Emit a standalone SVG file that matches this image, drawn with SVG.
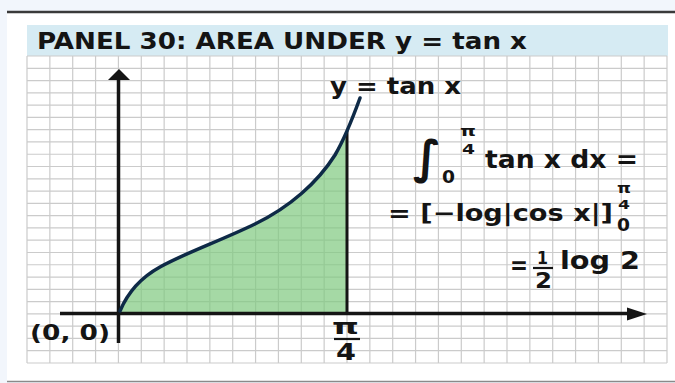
<svg xmlns="http://www.w3.org/2000/svg" width="675" height="383" viewBox="0 0 675 383">
<style>
.t{font-family:"DejaVu Sans","Liberation Sans",sans-serif;font-weight:bold;fill:#141414}
.grid{stroke:#cbcbcb;stroke-width:1.2;fill:none}
.ax{stroke:#151515;stroke-width:3.5;fill:none}
.bar{stroke:#141414;stroke-width:2.2}
</style>
<defs>
<clipPath id="clipArea"><rect x="0" y="0" width="347" height="383"/></clipPath>
</defs>
<rect width="675" height="383" fill="#f2f6fc"/>
<rect x="7" y="13" width="668" height="368" fill="#ffffff"/>
<line x1="7" y1="12" x2="675" y2="12" stroke="#3a3a3a" stroke-width="2.5"/>
<line x1="7" y1="381.5" x2="675" y2="381.5" stroke="#8a8a8a" stroke-width="1.5"/>
<g id="header">
<rect x="27" y="25" width="641" height="31" fill="#d6ebf3"/>
<text class="t" x="37" y="49" font-size="23.5" textLength="490" lengthAdjust="spacingAndGlyphs">PANEL 30: AREA UNDER y = tan x</text>
</g>
<g id="grid">
<path class="grid" d="M27,56V363M49.86,56V363M72.71,56V363M95.57,56V363M118.43,56V363M141.29,56V363M164.14,56V363M187,56V363M209.86,56V363M232.71,56V363M255.57,56V363M278.43,56V363M301.29,56V363M324.14,56V363M347,56V363M369.86,56V363M392.71,56V363M415.57,56V363M438.43,56V363M461.29,56V363M484.14,56V363M507,56V363M529.86,56V363M552.71,56V363M575.57,56V363M598.43,56V363M621.29,56V363M644.14,56V363M667,56V363
M27,56H667M27,68.28H667M27,80.56H667M27,92.84H667M27,105.12H667M27,117.4H667M27,129.68H667M27,141.96H667M27,154.24H667M27,166.52H667M27,178.8H667M27,191.08H667M27,203.36H667M27,215.64H667M27,227.92H667M27,240.2H667M27,252.48H667M27,264.76H667M27,277.04H667M27,289.32H667M27,301.6H667M27,313.88H667M27,326.16H667M27,338.44H667M27,350.72H667M27,363H667"/>
</g>
<g id="area">
<path clip-path="url(#clipArea)" fill="#7fc97f" fill-opacity="0.7" d="M120,313 L120,311 C128,292 140,278 160,267 C185,253 220,241 255,224 C290,207 318,182 335,155 C345,138 352,120 360,98 L360,313 Z"/>
<line x1="347" y1="313" x2="347" y2="131" stroke="#151515" stroke-width="3"/>
</g>
<g id="axes">
<line class="ax" x1="118.5" y1="343" x2="118.5" y2="78"/>
<polygon points="119,69 108,80 130,80" fill="#151515"/>
<line class="ax" x1="60" y1="313.5" x2="630" y2="313.5"/>
<polygon points="647,314 627,307.5 627,320.5" fill="#151515"/>
</g>
<g id="curve">
<path d="M120,311 C128,292 140,278 160,267 C185,253 220,241 255,224 C290,207 318,182 335,155 C345,138 352,120 360,98" fill="none" stroke="#0e2a47" stroke-width="3.5" stroke-linecap="round"/>
<text class="t" x="330" y="94" font-size="23.5" textLength="131" lengthAdjust="spacingAndGlyphs">y = tan x</text>
</g>
<g id="labels">
<text class="t" x="30" y="340" font-size="21.5" textLength="80" lengthAdjust="spacingAndGlyphs">(0, 0)</text>
<text class="t" x="332" y="334" font-size="22" textLength="27" lengthAdjust="spacingAndGlyphs">π</text>
<line class="bar" x1="334" y1="339" x2="360" y2="339"/>
<text class="t" x="336" y="360" font-size="23" textLength="20" lengthAdjust="spacingAndGlyphs">4</text>
</g>
<g id="formula">
<text class="t" x="413" y="173" font-size="46">∫</text>
<text class="t" x="442" y="183" font-size="17.5" textLength="13" lengthAdjust="spacingAndGlyphs">0</text>
<text class="t" x="460" y="136" font-size="14" textLength="16" lengthAdjust="spacingAndGlyphs">π</text>
<text class="t" x="462" y="153.5" font-size="14.5" textLength="13" lengthAdjust="spacingAndGlyphs">4</text>
<text class="t" x="485" y="168" font-size="24" textLength="153" lengthAdjust="spacingAndGlyphs">tan x dx =</text>
<text class="t" x="388" y="221" font-size="23" textLength="225" lengthAdjust="spacingAndGlyphs">= [−log|cos x|]</text>
<text class="t" x="617" y="193" font-size="13.5" textLength="14" lengthAdjust="spacingAndGlyphs">π</text>
<text class="t" x="618" y="209" font-size="13" textLength="12" lengthAdjust="spacingAndGlyphs">4</text>
<text class="t" x="617" y="231" font-size="17" textLength="13" lengthAdjust="spacingAndGlyphs">0</text>
<text class="t" x="510" y="274" font-size="24" textLength="18" lengthAdjust="spacingAndGlyphs">=</text>
<text class="t" x="537" y="264" font-size="18" textLength="11" lengthAdjust="spacingAndGlyphs">1</text>
<line class="bar" x1="533" y1="268" x2="553" y2="268"/>
<text class="t" x="535" y="288" font-size="21" textLength="17" lengthAdjust="spacingAndGlyphs">2</text>
<text class="t" x="560" y="269" font-size="24" textLength="80" lengthAdjust="spacingAndGlyphs">log 2</text>
</g>
</svg>
